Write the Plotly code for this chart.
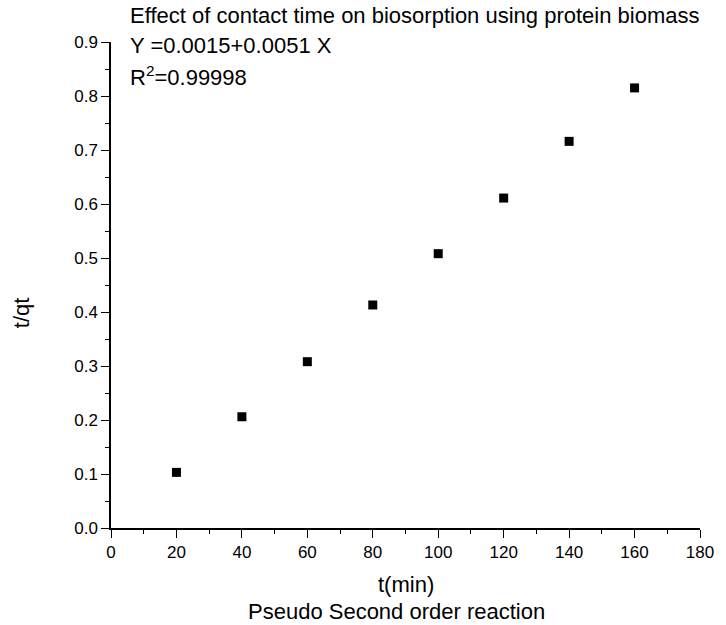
import plotly.graph_objects as go

t_min = [20, 40, 60, 80, 100, 120, 140, 160]
t_over_qt = [0.103, 0.206, 0.308, 0.413, 0.508, 0.611, 0.716, 0.815]

title_text = "Effect of contact time on biosorption using protein biomass"
eq_text = "Y =0.0015+0.0051 X"
r2_text = "R<sup>2</sup>=0.99998"
x_title = "t(min)"
x_subtitle = "Pseudo Second order reaction"
y_title = "t/qt"

W, H = 726, 625
L, R, T, B = 111, 18, 42, 97
pw, ph = W - L - R, H - T - B

def px(x):
    return (x - L) / pw

def py(y):
    return (H - B - y) / ph

FONT = "Liberation Sans, Arial, sans-serif"

fig = go.Figure()
fig.add_trace(go.Scatter(
    x=t_min, y=t_over_qt, mode="markers",
    marker=dict(symbol="square", size=9, color="black"),
    showlegend=False,
))

axis_common = dict(
    showgrid=False, zeroline=False, showline=True, linecolor="black", linewidth=1.5,
    ticks="outside", ticklen=8, tickwidth=1.3, tickcolor="black",
    tickfont=dict(family=FONT, size=17, color="black"),
    mirror=False,
)
fig.update_xaxes(range=[0, 180], tick0=0, dtick=20,
                 minor=dict(ticks="outside", ticklen=4, tickwidth=1, tickcolor="black", dtick=10),
                 **axis_common)
fig.update_yaxes(range=[0, 0.9], tick0=0, dtick=0.1, tickformat=".1f",
                 minor=dict(ticks="outside", ticklen=4, tickwidth=1, tickcolor="black", dtick=0.05),
                 **axis_common)

ann_font = dict(family=FONT, size=22, color="black")
anns = [
    dict(x=px(128), y=py(16), text=title_text, xanchor="left", yanchor="middle"),
    dict(x=px(128), y=py(46), text=eq_text, xanchor="left", yanchor="middle"),
    dict(x=px(128), y=py(76), text=r2_text, xanchor="left", yanchor="middle"),
    dict(x=px(410), y=py(584), text=x_title, xanchor="center", yanchor="middle"),
    dict(x=px(400), y=py(611), text=x_subtitle, xanchor="center", yanchor="middle"),
    dict(x=px(20), y=py(313), text=y_title, xanchor="center", yanchor="middle", textangle=-90),
]
for a in anns:
    fig.add_annotation(xref="paper", yref="paper", showarrow=False, font=ann_font, **a)

fig.update_layout(
    width=W, height=H,
    margin=dict(l=L, r=R, t=T, b=B),
    paper_bgcolor="white", plot_bgcolor="white",
    font=dict(family=FONT, color="black"),
)

fig.write_html("out.html")
